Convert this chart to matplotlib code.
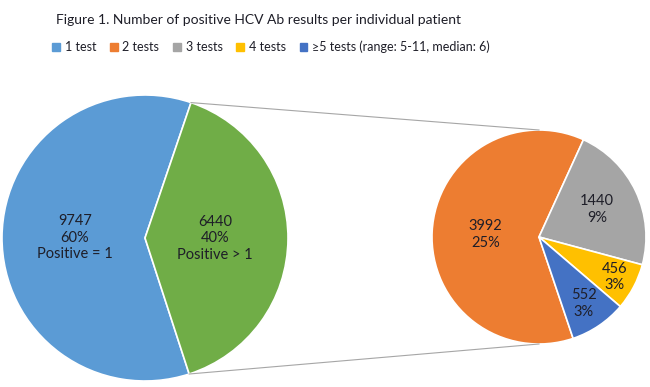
import numpy as np
import matplotlib.pyplot as plt
from matplotlib.patches import Patch

plt.rcParams['font.family'] = ['Lato', 'DejaVu Sans']

# data
main_labels = ['Positive = 1', 'Positive > 1']
main_values = [9747, 6440]
sub_names = ['2 tests', '3 tests', '4 tests', '\u22655 tests (range: 5-11, median: 6)']
sub_values = [3992, 1440, 456, 552]
legend_names = ['1 test'] + sub_names

main_colors = ['#5B9BD5', '#70AD47']
sub_colors = ['#ED7D31', '#A5A5A5', '#FFC000', '#4472C4']
txt = '#1e1e28'

total = sum(main_values)

W, H = 650, 387
fig = plt.figure(figsize=(W / 100, H / 100), dpi=100)
ax = fig.add_axes([0, 0, 1, 1])

# left pie
c1, r1 = (145, H - 238), 143
w1, _ = ax.pie(main_values, colors=main_colors, startangle=-72, counterclock=False,
               center=c1, radius=r1, wedgeprops=dict(edgecolor='white', linewidth=1.2))
# right pie
c2, r2 = (539, H - 237), 107
w2, _ = ax.pie(sub_values, colors=sub_colors, startangle=-71.4, counterclock=False,
               center=c2, radius=r2, wedgeprops=dict(edgecolor='white', linewidth=1.2))

ax.set_xlim(0, W)
ax.set_ylim(0, H)
ax.set_aspect('equal')
ax.axis('off')

def place(w, c, r, frac, s):
    a = np.deg2rad((w.theta1 + w.theta2) / 2)
    ax.text(c[0] + frac * r * np.cos(a), c[1] + frac * r * np.sin(a), s,
            ha='center', va='center', fontsize=10.5, color=txt, linespacing=1.25)

for w, v, lab in zip(w1, main_values, main_labels):
    place(w, c1, r1, 0.49, '%d\n%d%%\n%s' % (v, round(100 * v / total), lab))

fracs = [0.5, 0.6, 0.8, 0.75]
for w, v, f in zip(w2, sub_values, fracs):
    place(w, c2, r2, f, '%d\n%d%%' % (v, round(100 * v / total)))

# connector lines from the "other" wedge to the second pie
g = w1[1]
for ang, sign in [(g.theta1, -1), (g.theta2, 1)]:
    a = np.deg2rad(ang)
    x0, y0 = c1[0] + r1 * np.cos(a), c1[1] + r1 * np.sin(a)
    ax.plot([x0, c2[0]], [y0, c2[1] + sign * r2], color='#A6A6A6', lw=0.8)

fig.text(258 / W, 1 - 20 / H, 'Figure 1. Number of positive HCV Ab results per individual patient',
         ha='center', va='center', fontsize=10, color=txt)

handles = [Patch(color=c) for c in main_colors[:1] + sub_colors]
fig.legend(handles, legend_names, loc='center', bbox_to_anchor=(271 / W, 1 - 47 / H), ncol=5,
           frameon=False, fontsize=9, handlelength=0.6, handleheight=0.6,
           handletextpad=0.4, columnspacing=1.1, labelcolor=txt)

fig.savefig('out.png', dpi=100)
